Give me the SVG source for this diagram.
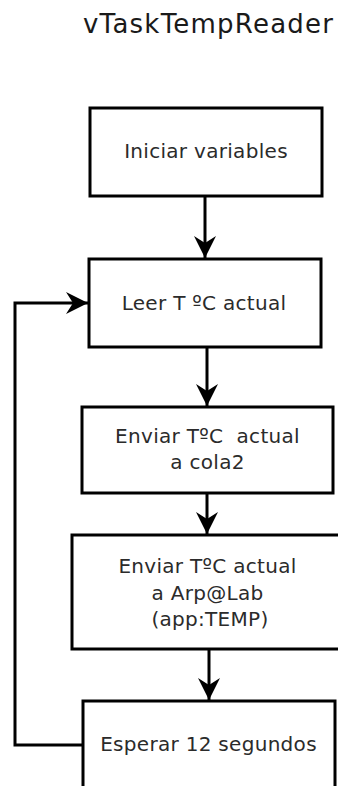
<svg xmlns="http://www.w3.org/2000/svg" width="338" height="786" viewBox="0 0 338 786">
  <style>
    .box { fill: #ffffff; stroke: #000000; stroke-width: 3; }
    .lbl { font-family: "DejaVu Sans", "Liberation Sans", sans-serif; font-size: 20px; letter-spacing: 0.3px; fill: #2b2b2b; text-anchor: middle; white-space: pre; }
    .title { font-family: "DejaVu Sans", "Liberation Sans", sans-serif; font-size: 26px; fill: #1a1a1a; }
    .wire { fill: none; stroke: #000000; stroke-width: 3; }
  </style>
  <defs>
    <marker id="arrow" viewBox="0 0 22 22" refX="22" refY="11" markerWidth="22" markerHeight="22" markerUnits="userSpaceOnUse" orient="auto">
      <path d="M0,0 L22,11 L0,22 L7,11 Z" fill="#000000"/>
    </marker>
  </defs>

  <rect width="338" height="786" fill="#ffffff"/>

  <text class="title" x="83" y="33" textLength="250" lengthAdjust="spacing">vTaskTempReader</text>

  <g id="connectors">
    <line class="wire" x1="205" y1="196" x2="205" y2="258" marker-end="url(#arrow)"/>
    <line class="wire" x1="207" y1="347" x2="207" y2="406" marker-end="url(#arrow)"/>
    <line class="wire" x1="207" y1="493" x2="207" y2="534" marker-end="url(#arrow)"/>
    <line class="wire" x1="209" y1="649" x2="209" y2="700" marker-end="url(#arrow)"/>
    <polyline class="wire" points="83,745 15,745 15,303 88,303" marker-end="url(#arrow)"/>
  </g>

  <g id="iniciar">
    <rect class="box" x="90" y="108" width="232" height="88"/>
    <text class="lbl" x="206" y="158">Iniciar variables</text>
  </g>

  <g id="leer">
    <rect class="box" x="89" y="259" width="232" height="88"/>
    <text class="lbl" x="204" y="310">Leer T ºC actual</text>
  </g>

  <g id="cola2">
    <rect class="box" x="82" y="407" width="251" height="86"/>
    <text class="lbl" x="207.5" y="443">Enviar TºC  actual</text>
    <text class="lbl" x="207.5" y="469">a cola2</text>
  </g>

  <g id="arplab">
    <rect class="box" x="72" y="535" width="280" height="114"/>
    <text class="lbl" x="207.5" y="573">Enviar TºC actual</text>
    <text class="lbl" x="207.5" y="600">a Arp@Lab</text>
    <text class="lbl" x="210" y="626">(app:TEMP)</text>
  </g>

  <g id="esperar">
    <rect class="box" x="83" y="701" width="252" height="100"/>
    <text class="lbl" x="208.5" y="751">Esperar 12 segundos</text>
  </g>
</svg>
